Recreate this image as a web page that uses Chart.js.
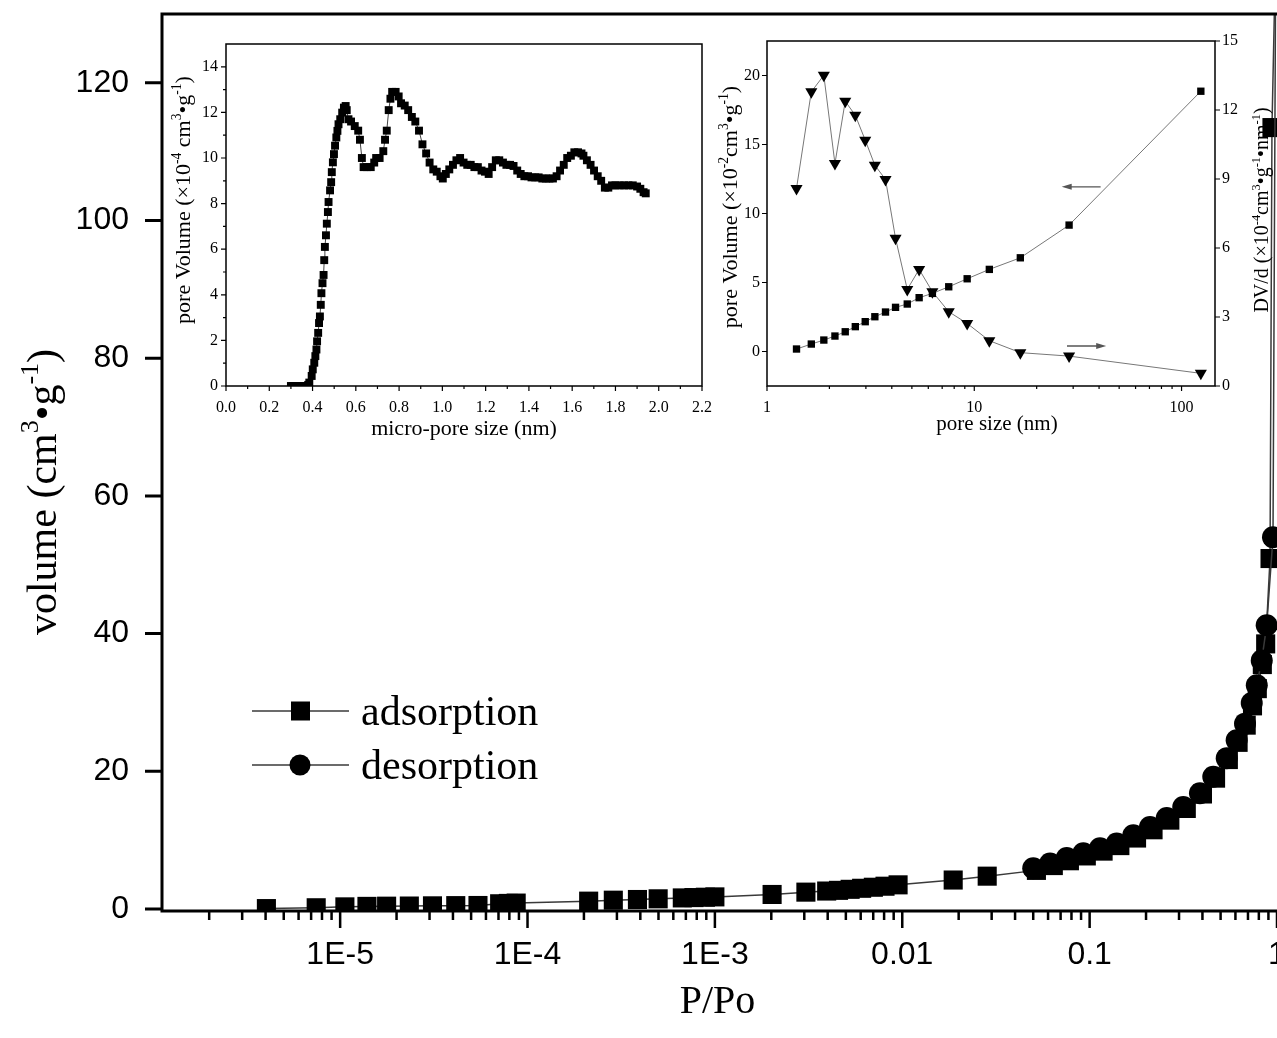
<!DOCTYPE html>
<html>
<head>
<meta charset="utf-8">
<script src="https://cdn.jsdelivr.net/npm/chart.js@4.4.0/dist/chart.umd.min.js"></script>
<style>
  html, body { margin: 0; padding: 0; background: #fff; overflow: hidden; }
  canvas { position: absolute; }
</style>
</head>
<body>
<canvas id="isotherm" width="1277" height="1038" style="left:0;top:0"></canvas>
<canvas id="microPore" width="560" height="420" style="left:160px;top:30px"></canvas>
<canvas id="poreSize" width="577" height="420" style="left:700px;top:20px"></canvas>
<script>
// main isotherm (P/Po, cm3/g)
var adsX = [4.04e-6, 7.45e-6, 1.06e-5, 1.39e-5, 1.77e-5, 2.34e-5, 3.11e-5, 4.14e-5, 5.44e-5, 7.1e-5, 7.9e-5, 8.7e-5,
  2.12e-4, 2.87e-4, 3.86e-4, 4.98e-4, 6.7e-4, 7.73e-4, 8.9e-4, 1.0e-3, 2.02e-3, 3.06e-3, 3.95e-3, 4.57e-3, 5.27e-3,
  6.07e-3, 7.01e-3, 8.09e-3, 9.5e-3, 0.0187, 0.0284, 0.052, 0.064, 0.078, 0.096, 0.118, 0.145, 0.178, 0.218, 0.268,
  0.328, 0.400, 0.47, 0.55, 0.62, 0.685, 0.74, 0.785, 0.835, 0.87, 0.918, 0.94, 0.985];
var adsY = [0.05, 0.17, 0.3, 0.37, 0.4, 0.42, 0.45, 0.48, 0.5, 0.75, 0.8, 0.85,
  1.13, 1.27, 1.37, 1.47, 1.6, 1.65, 1.7, 1.75, 2.1, 2.44, 2.6, 2.7, 2.85,
  3.0, 3.15, 3.3, 3.5, 4.2, 4.76, 5.6, 6.3, 7.0, 7.7, 8.4, 9.2, 10.3, 11.5, 12.9,
  14.6, 16.7, 19.0, 21.7, 24.2, 26.7, 29.5, 32.0, 35.5, 38.5, 50.9, 113.5, 140];
var desX = [0.985, 0.952, 0.881, 0.829, 0.780, 0.733, 0.675, 0.609, 0.539, 0.457, 0.388, 0.316, 0.258, 0.210,
  0.171, 0.1395, 0.1136, 0.0925, 0.0755, 0.0615, 0.050];
var desY = [140, 54.0, 41.2, 36.1, 32.5, 29.9, 26.9, 24.5, 21.9, 19.2, 16.8, 14.8, 13.2, 11.9,
  10.7, 9.5, 8.8, 8.1, 7.4, 6.6, 5.9];
var mainXTicks = [1e-5, 1e-4, 1e-3, 0.01, 0.1, 1];
var mainXLabels = ['1E-5', '1E-4', '1E-3', '0.01', '0.1', '1'];
var mainYTicks = [0, 20, 40, 60, 80, 100, 120];

// inset 1: micro-pore distribution
var microX = [0.30, 0.31, 0.32, 0.33, 0.34, 0.35, 0.36, 0.37, 0.38, 0.385, 0.396, 0.401, 0.408, 0.413, 0.418,
  0.421, 0.426, 0.430, 0.434, 0.438, 0.441, 0.446, 0.451, 0.454, 0.457, 0.462, 0.466, 0.471, 0.474, 0.481,
  0.486, 0.489, 0.494, 0.499, 0.504, 0.510, 0.515, 0.520, 0.528, 0.537, 0.545, 0.553, 0.558, 0.566, 0.578,
  0.595, 0.611, 0.619, 0.628, 0.636, 0.652, 0.669, 0.685, 0.694, 0.71, 0.727, 0.735, 0.743, 0.752, 0.760,
  0.768, 0.784, 0.798, 0.809, 0.826, 0.842, 0.859, 0.875, 0.892, 0.908, 0.925, 0.941, 0.958, 0.974, 0.991,
  1.002, 1.016, 1.032, 1.049, 1.065, 1.082, 1.098, 1.115, 1.131, 1.148, 1.164, 1.181, 1.197, 1.214, 1.230,
  1.247, 1.263, 1.280, 1.296, 1.313, 1.329, 1.346, 1.362, 1.379, 1.396, 1.412, 1.429, 1.445, 1.462, 1.478,
  1.495, 1.511, 1.528, 1.544, 1.561, 1.577, 1.594, 1.610, 1.627, 1.643, 1.652, 1.668, 1.685, 1.701, 1.718,
  1.734, 1.751, 1.767, 1.784, 1.80, 1.82, 1.84, 1.86, 1.88, 1.90, 1.915, 1.93, 1.94];
var microY = [0, 0, 0, 0, 0, 0, 0, 0, 0.05, 0.15, 0.44, 0.73, 1.02, 1.31, 1.60,
  1.96, 2.33, 2.76, 3.05, 3.56, 4.07, 4.51, 4.87, 5.52, 6.10, 6.61, 7.12, 7.63, 8.07, 8.58,
  8.94, 9.38, 9.81, 10.17, 10.54, 10.90, 11.19, 11.48, 11.70, 11.99, 12.21, 12.28, 12.1, 11.7, 11.6,
  11.4, 11.2, 10.8, 10.0, 9.6, 9.6, 9.6, 9.8, 10.0, 10.0, 10.3, 10.8, 11.2, 12.1, 12.6,
  12.9, 12.9, 12.7, 12.4, 12.3, 12.1, 11.8, 11.6, 11.2, 10.6, 10.2, 9.8, 9.5, 9.4, 9.2,
  9.1, 9.3, 9.5, 9.7, 9.9, 10.0, 9.8, 9.7, 9.7, 9.6, 9.6, 9.45, 9.4, 9.3, 9.6,
  9.9, 9.9, 9.8, 9.7, 9.7, 9.65, 9.45, 9.3, 9.2, 9.2, 9.15, 9.15, 9.15, 9.1, 9.1,
  9.1, 9.1, 9.2, 9.45, 9.7, 10.0, 10.1, 10.25, 10.25, 10.2, 10.1, 9.9, 9.7, 9.45, 9.2,
  9.0, 8.7, 8.7, 8.8, 8.8, 8.8, 8.8, 8.8, 8.8, 8.75, 8.65, 8.5, 8.45];
var microXTicks = [0, 0.2, 0.4, 0.6, 0.8, 1.0, 1.2, 1.4, 1.6, 1.8, 2.0, 2.2];
var microXMinor = [0.1, 0.3, 0.5, 0.7, 0.9, 1.1, 1.3, 1.5, 1.7, 1.9, 2.1];
var microYTicks = [0, 2, 4, 6, 8, 10, 12, 14];
var microYMinor = [1, 3, 5, 7, 9, 11, 13];

// inset 2: pore size distribution
var poreX = [1.388, 1.636, 1.88, 2.127, 2.385, 2.667, 2.978, 3.314, 3.73, 4.17, 4.75, 5.42, 6.28, 7.53, 9.24,
  11.82, 16.68, 28.67, 123.9];
var poreVol = [0.18, 0.54, 0.83, 1.12, 1.43, 1.80, 2.16, 2.52, 2.86, 3.20, 3.44, 3.90, 4.21, 4.69, 5.27,
  5.95, 6.79, 9.16, 18.86];
var poreDVd = [8.59, 12.79, 13.51, 9.67, 12.38, 11.77, 10.69, 9.60, 8.98, 6.42, 4.20, 5.07, 4.10, 3.23, 2.72,
  1.97, 1.45, 1.30, 0.55];
var poreXTicks = [1, 10, 100];
var poreXMinor = [2, 3, 4, 5, 6, 7, 8, 9, 20, 30, 40, 50, 60, 70, 80, 90];
var poreYTicks = [0, 5, 10, 15, 20];
var poreY2Ticks = [0, 3, 6, 9, 12, 15];
// arrows pointing at each curve's axis (x from, x to, y)
var arrowLeft = [40.7, 26.4, 11.93];
var arrowRight = [28, 43.3, 1.74];

var SERIF = '"Liberation Serif", "Times New Roman", serif';
var SANS = '"Liberation Sans", Arial, sans-serif';

function pts(xs, ys) {
  return xs.map(function (x, i) { return { x: x, y: ys[i] }; });
}

function minorLog(min, max) {
  var out = [];
  for (var e = -7; e <= 3; e++) {
    for (var m = 2; m <= 9; m++) {
      var v = m * Math.pow(10, e);
      if (v > min && v < max) out.push(v);
    }
  }
  return out;
}

// text with superscripts, parts = [[text, isSup], ...]
function drawRich(ctx, parts, x, y, rot, size) {
  var small = size * 0.62;
  ctx.save();
  ctx.translate(x, y);
  ctx.rotate(rot);
  ctx.textAlign = 'left';
  ctx.textBaseline = 'alphabetic';
  ctx.fillStyle = '#000';
  var w = 0;
  parts.forEach(function (p) {
    ctx.font = (p[1] ? small : size) + 'px ' + SERIF;
    w += ctx.measureText(p[0]).width;
  });
  var cx = -w / 2;
  parts.forEach(function (p) {
    ctx.font = (p[1] ? small : size) + 'px ' + SERIF;
    ctx.fillText(p[0], cx, p[1] ? -size * 0.42 : 0);
    cx += ctx.measureText(p[0]).width;
  });
  ctx.restore();
}

function decor(cfg) {
  return {
    id: 'decor',
    afterDraw: function (chart) {
      var ctx = chart.ctx, a = chart.chartArea;
      ctx.save();
      ctx.strokeStyle = '#000';
      ctx.fillStyle = '#000';
      ctx.lineWidth = cfg.frameWidth;
      ctx.lineCap = 'square';
      ctx.beginPath();
      cfg.frame.forEach(function (side) {
        if (side === 'left') { ctx.moveTo(a.left, a.top); ctx.lineTo(a.left, a.bottom); }
        if (side === 'right') { ctx.moveTo(a.right, a.top); ctx.lineTo(a.right, a.bottom); }
        if (side === 'top') { ctx.moveTo(a.left, a.top); ctx.lineTo(a.right, a.top); }
        if (side === 'bottom') { ctx.moveTo(a.left, a.bottom); ctx.lineTo(a.right, a.bottom); }
      });
      ctx.stroke();
      ctx.lineCap = 'butt';
      cfg.ticks.forEach(function (t) {
        var s = chart.scales[t.scale];
        ctx.lineWidth = t.width;
        ctx.beginPath();
        [[t.major, t.majorLen], [t.minor || [], t.minorLen]].forEach(function (pair) {
          pair[0].forEach(function (v) {
            var p = s.getPixelForValue(v);
            if (t.side === 'bottom') { ctx.moveTo(p, a.bottom); ctx.lineTo(p, a.bottom + pair[1]); }
            if (t.side === 'left') { ctx.moveTo(a.left, p); ctx.lineTo(a.left - pair[1], p); }
            if (t.side === 'right') { ctx.moveTo(a.right, p); ctx.lineTo(a.right + pair[1], p); }
          });
        });
        ctx.stroke();
      });
      cfg.titles.forEach(function (tt) {
        var at = tt.at(a);
        drawRich(ctx, tt.parts, at[0], at[1], tt.rot || 0, tt.size);
      });
      if (cfg.extra) cfg.extra(chart, ctx);
      ctx.restore();
    }
  };
}

function fixedScale(size, horizontal) {
  return function (s) {
    if (horizontal) s.height = size; else s.width = size;
    s.paddingLeft = 0; s.paddingRight = 0; s.paddingTop = 0; s.paddingBottom = 0;
  };
}

function setTicks(values) {
  return function (s) { s.ticks = values.map(function (v) { return { value: v }; }); };
}

function hiddenGrid(len) {
  return { display: true, drawOnChartArea: false, drawTicks: true, tickLength: len, color: 'rgba(0,0,0,0)' };
}

// ---------- main isotherm ----------
new Chart(document.getElementById('isotherm'), {
  type: 'scatter',
  data: {
    datasets: [{
      label: 'desorption',
      data: pts(desX, desY),
      showLine: true,
      order: 0,
      borderColor: '#3a3a3a',
      borderWidth: 1.5,
      pointStyle: 'circle',
      pointRadius: 11,
      pointBorderWidth: 0,
      pointBackgroundColor: '#000'
    }, {
      label: 'adsorption',
      data: pts(adsX, adsY),
      showLine: true,
      order: 1,
      borderColor: '#3a3a3a',
      borderWidth: 1.5,
      pointStyle: 'rect',
      pointRadius: 13.5,
      pointBorderWidth: 0,
      pointBackgroundColor: '#000'
    }]
  },
  options: {
    responsive: false,
    animation: false,
    devicePixelRatio: 1,
    layout: { autoPadding: false, padding: { top: 14, right: 0, left: 0, bottom: 0 } },
    scales: {
      x: {
        type: 'logarithmic',
        min: 1.12e-6,
        max: 1,
        afterBuildTicks: setTicks(mainXTicks),
        afterFit: fixedScale(127, true),
        grid: hiddenGrid(17),
        border: { display: false },
        ticks: {
          autoSkip: false, maxRotation: 0, padding: 8, color: '#000',
          font: { family: SANS, size: 32 },
          callback: function (v, i) { return mainXLabels[i]; }
        }
      },
      y: {
        min: -0.3,
        max: 130,
        afterBuildTicks: setTicks(mainYTicks),
        afterFit: fixedScale(162, false),
        grid: hiddenGrid(17),
        border: { display: false },
        ticks: { padding: 16, color: '#000', font: { family: SANS, size: 32 } }
      }
    },
    plugins: { legend: { display: false }, tooltip: { enabled: false } }
  },
  plugins: [decor({
    frameWidth: 3,
    frame: ['left', 'top', 'bottom'],
    ticks: [
      { scale: 'x', side: 'bottom', major: mainXTicks, minor: minorLog(1.12e-6, 1), majorLen: 17, minorLen: 9, width: 2.5 },
      { scale: 'y', side: 'left', major: mainYTicks, majorLen: 17, width: 3 }
    ],
    titles: [
      { parts: [['P/Po', 0]], size: 40, at: function (a) { return [(a.left + a.right) / 2 - 2, 1013]; } },
      { parts: [['volume (cm', 0], ['3', 1], ['•g', 0], ['-1', 1], [')', 0]], size: 42, rot: -Math.PI / 2,
        at: function () { return [56, 492]; } }
    ],
    extra: function (chart, ctx) {
      // legend drawn inside the plot area
      var rows = [['adsorption', 'rect', 711], ['desorption', 'circle', 765]];
      rows.forEach(function (r) {
        ctx.strokeStyle = '#3a3a3a';
        ctx.lineWidth = 1.5;
        ctx.beginPath(); ctx.moveTo(252, r[2]); ctx.lineTo(349, r[2]); ctx.stroke();
        ctx.fillStyle = '#000';
        if (r[1] === 'rect') ctx.fillRect(291, r[2] - 9.5, 19, 19);
        else { ctx.beginPath(); ctx.arc(300, r[2], 10.5, 0, Math.PI * 2); ctx.fill(); }
        ctx.font = '42px ' + SERIF;
        ctx.textBaseline = 'alphabetic';
        ctx.textAlign = 'left';
        ctx.fillText(r[0], 361, r[2] + 14);
      });
    }
  })]
});

// ---------- inset 1: micro-pore ----------
new Chart(document.getElementById('microPore'), {
  type: 'scatter',
  data: {
    datasets: [{
      data: pts(microX, microY),
      showLine: true,
      borderColor: '#444',
      borderWidth: 1,
      pointStyle: 'rect',
      pointRadius: 5.6,
      pointBorderWidth: 0,
      pointBackgroundColor: '#000'
    }]
  },
  options: {
    responsive: false,
    animation: false,
    devicePixelRatio: 1,
    layout: { autoPadding: false, padding: { top: 14, right: 18, left: 0, bottom: 0 } },
    scales: {
      x: {
        min: 0, max: 2.2,
        afterBuildTicks: setTicks(microXTicks),
        afterFit: fixedScale(64, true),
        grid: hiddenGrid(5),
        border: { display: false },
        ticks: {
          autoSkip: false, maxRotation: 0, padding: 7, color: '#000',
          font: { family: SERIF, size: 16 },
          callback: function (v) { return Number(v).toFixed(1); }
        }
      },
      y: {
        min: 0, max: 15,
        afterBuildTicks: setTicks(microYTicks),
        afterFit: fixedScale(66, false),
        grid: hiddenGrid(5),
        border: { display: false },
        ticks: { padding: 3, color: '#000', font: { family: SERIF, size: 16 } }
      }
    },
    plugins: { legend: { display: false }, tooltip: { enabled: false } }
  },
  plugins: [decor({
    frameWidth: 1.5,
    frame: ['left', 'top', 'right', 'bottom'],
    ticks: [
      { scale: 'x', side: 'bottom', major: microXTicks, minor: microXMinor, majorLen: 5, minorLen: 3, width: 1.2 },
      { scale: 'y', side: 'left', major: microYTicks, minor: microYMinor, majorLen: 5, minorLen: 3, width: 1.2 }
    ],
    titles: [
      { parts: [['micro-pore size (nm)', 0]], size: 22, at: function (a) { return [(a.left + a.right) / 2, a.bottom + 49]; } },
      { parts: [['pore Volume (×10', 0], ['-4', 1], [' cm', 0], ['3', 1], ['•g', 0], ['-1', 1], [')', 0]], size: 22,
        rot: -Math.PI / 2, at: function () { return [30, 170]; } }
    ]
  })]
});

// ---------- inset 2: pore size ----------
function drawArrow(ctx, x1, x2, y) {
  var d = x2 > x1 ? 1 : -1;
  ctx.strokeStyle = '#555';
  ctx.fillStyle = '#555';
  ctx.lineWidth = 1.3;
  ctx.beginPath(); ctx.moveTo(x1, y); ctx.lineTo(x2 - d * 6, y); ctx.stroke();
  ctx.beginPath(); ctx.moveTo(x2, y); ctx.lineTo(x2 - d * 10, y - 3); ctx.lineTo(x2 - d * 10, y + 3); ctx.closePath(); ctx.fill();
}

new Chart(document.getElementById('poreSize'), {
  type: 'scatter',
  data: {
    datasets: [{
      label: 'pore Volume',
      data: pts(poreX, poreVol),
      yAxisID: 'y',
      showLine: true,
      borderColor: '#777',
      borderWidth: 1,
      pointStyle: 'rect',
      pointRadius: 5.2,
      pointBorderWidth: 0,
      pointBackgroundColor: '#000'
    }, {
      label: 'DV/d',
      data: pts(poreX, poreDVd),
      yAxisID: 'y2',
      showLine: true,
      borderColor: '#777',
      borderWidth: 1,
      pointStyle: 'triangle',
      pointRotation: 180,
      pointRadius: 7,
      pointBorderWidth: 0,
      pointBackgroundColor: '#000'
    }]
  },
  options: {
    responsive: false,
    animation: false,
    devicePixelRatio: 1,
    layout: { autoPadding: false, padding: { top: 21, right: 0, left: 0, bottom: 0 } },
    scales: {
      x: {
        type: 'logarithmic',
        min: 1, max: 145,
        afterBuildTicks: setTicks(poreXTicks),
        afterFit: fixedScale(54, true),
        grid: hiddenGrid(5),
        border: { display: false },
        ticks: {
          autoSkip: false, maxRotation: 0, padding: 7, color: '#000',
          font: { family: SERIF, size: 16 },
          callback: function (v) { return String(v); }
        }
      },
      y: {
        position: 'left',
        min: -2.5, max: 22.5,
        afterBuildTicks: setTicks(poreYTicks),
        afterFit: fixedScale(67, false),
        grid: hiddenGrid(5),
        border: { display: false },
        ticks: { padding: 2, color: '#000', font: { family: SERIF, size: 16 } }
      },
      y2: {
        position: 'right',
        min: 0, max: 15,
        afterBuildTicks: setTicks(poreY2Ticks),
        afterFit: fixedScale(62, false),
        grid: hiddenGrid(5),
        border: { display: false },
        ticks: { padding: 2, color: '#000', font: { family: SERIF, size: 16 } }
      }
    },
    plugins: { legend: { display: false }, tooltip: { enabled: false } }
  },
  plugins: [decor({
    frameWidth: 1.5,
    frame: ['left', 'top', 'right', 'bottom'],
    ticks: [
      { scale: 'x', side: 'bottom', major: poreXTicks, minor: poreXMinor, majorLen: 5, minorLen: 3, width: 1.2 },
      { scale: 'y', side: 'left', major: poreYTicks, majorLen: 5, width: 1.2 },
      { scale: 'y2', side: 'right', major: poreY2Ticks, majorLen: 5, width: 1.2 }
    ],
    titles: [
      { parts: [['pore size (nm)', 0]], size: 21, at: function (a) { return [(a.left + a.right) / 2 + 6, a.bottom + 44]; } },
      { parts: [['pore Volume (×10', 0], ['-2', 1], ['cm', 0], ['3', 1], ['•g', 0], ['-1', 1], [')', 0]], size: 22,
        rot: -Math.PI / 2, at: function () { return [37, 187]; } },
      { parts: [['DV/d (×10', 0], ['-4', 1], ['cm', 0], ['3', 1], ['•g', 0], ['-1', 1], ['•nm', 0], ['-1', 1], [')', 0]], size: 20,
        rot: -Math.PI / 2, at: function () { return [568, 190]; } }
    ],
    extra: function (chart, ctx) {
      var x = chart.scales.x;
      drawArrow(ctx, x.getPixelForValue(arrowLeft[0]), x.getPixelForValue(arrowLeft[1]), chart.scales.y.getPixelForValue(arrowLeft[2]));
      drawArrow(ctx, x.getPixelForValue(arrowRight[0]), x.getPixelForValue(arrowRight[1]), chart.scales.y2.getPixelForValue(arrowRight[2]));
    }
  })]
});
</script>
</body>
</html>
